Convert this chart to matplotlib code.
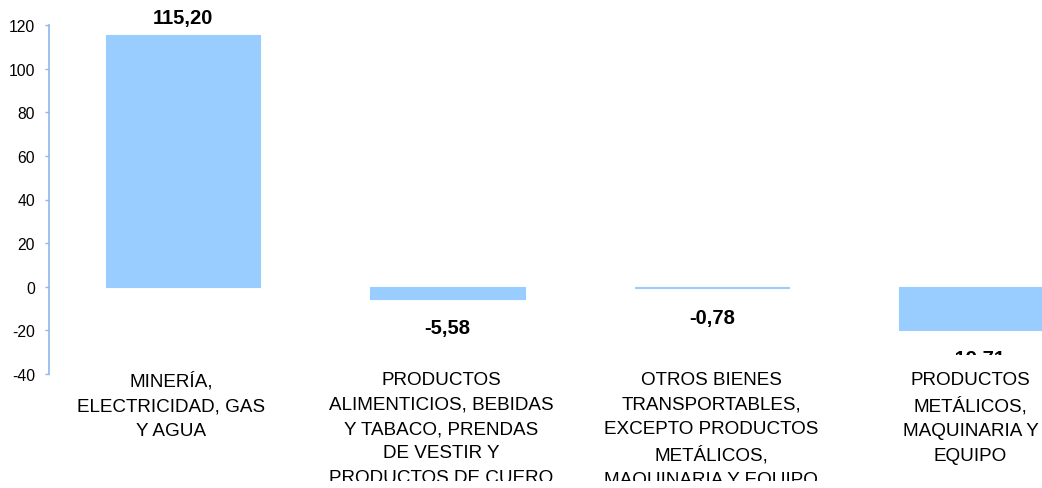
import matplotlib
matplotlib.use("Agg")
import matplotlib.pyplot as plt
from matplotlib.transforms import Bbox, TransformedBbox, ScaledTranslation

plt.rcParams['font.family'] = ['Liberation Sans', 'DejaVu Sans']

categories = [
    "MINERÍA,\nELECTRICIDAD, GAS\nY AGUA",
    "PRODUCTOS\nALIMENTICIOS, BEBIDAS\nY TABACO, PRENDAS\nDE VESTIR Y\nPRODUCTOS DE CUERO",
    "OTROS BIENES\nTRANSPORTABLES,\nEXCEPTO PRODUCTOS\nMETÁLICOS,\nMAQUINARIA Y EQUIPO",
    "PRODUCTOS\nMETÁLICOS,\nMAQUINARIA Y\nEQUIPO",
]
values = [115.20, -5.58, -0.78, -19.71]
value_labels = ["115,20", "-5,58", "-0,78", "-19,71"]
yticks = [-40, -20, 0, 20, 40, 60, 80, 100, 120]

W, H = 1042, 489
fig = plt.figure(figsize=(W / 100, H / 100), dpi=100)
ax = fig.add_axes([49 / W, 1 - 375 / H, (W - 49) / W, (375 - 26) / H])

bar_color = "#99CCFF"
axis_color = "#8DB8E8"
x = list(range(len(values)))
ax.bar(x, values, width=0.585, color=bar_color, edgecolor=bar_color, linewidth=0.8)

ax.set_ylim(-40, 120)
ax.set_xlim(-0.5066, 3.2475)
ax.set_yticks(yticks)
ax.set_yticklabels([str(t) for t in yticks], fontsize=11.3)
ax.tick_params(axis='y', direction='out', length=3, width=1, color=axis_color, pad=7)
ax.set_xticks(x)
ax.set_xticklabels(categories, fontsize=13.6, linespacing=1.57)
ax.tick_params(axis='x', length=0, pad=-2)

# horizontal nudges of category labels (pixels), as placed in the reference
label_shift_px = [-12, -6, -1, -6]
label_clip = TransformedBbox(Bbox.from_extents(0, (H - 482) / H, 1, 1), fig.transFigure)
for lbl, dx in zip(ax.get_xticklabels(), label_shift_px):
    lbl.set_transform(lbl.get_transform() + ScaledTranslation(dx / 100, 0, fig.dpi_scale_trans))
    lbl.set_clip_box(label_clip)
    lbl.set_clip_on(True)

for s in ['top', 'right', 'bottom']:
    ax.spines[s].set_visible(False)
ax.spines['left'].set_color(axis_color)
ax.spines['left'].set_linewidth(1.2)

clip = TransformedBbox(Bbox.from_extents(0, (H - 356) / H, 1, 1.5), fig.transFigure)
for xi, v, lab in zip(x, values, value_labels):
    if v >= 0:
        t = ax.annotate(lab, (xi, v), xytext=(0, 6), textcoords='offset points',
                        ha='center', va='bottom', fontsize=14.5, fontweight='bold',
                        annotation_clip=False)
    else:
        t = ax.annotate(lab, (xi, v), xytext=(0, -14), textcoords='offset points',
                        ha='center', va='top', fontsize=14.5, fontweight='bold',
                        annotation_clip=False)
    t.set_clip_box(clip)
    t.set_clip_on(True)

fig.savefig("out.png", dpi=100)
